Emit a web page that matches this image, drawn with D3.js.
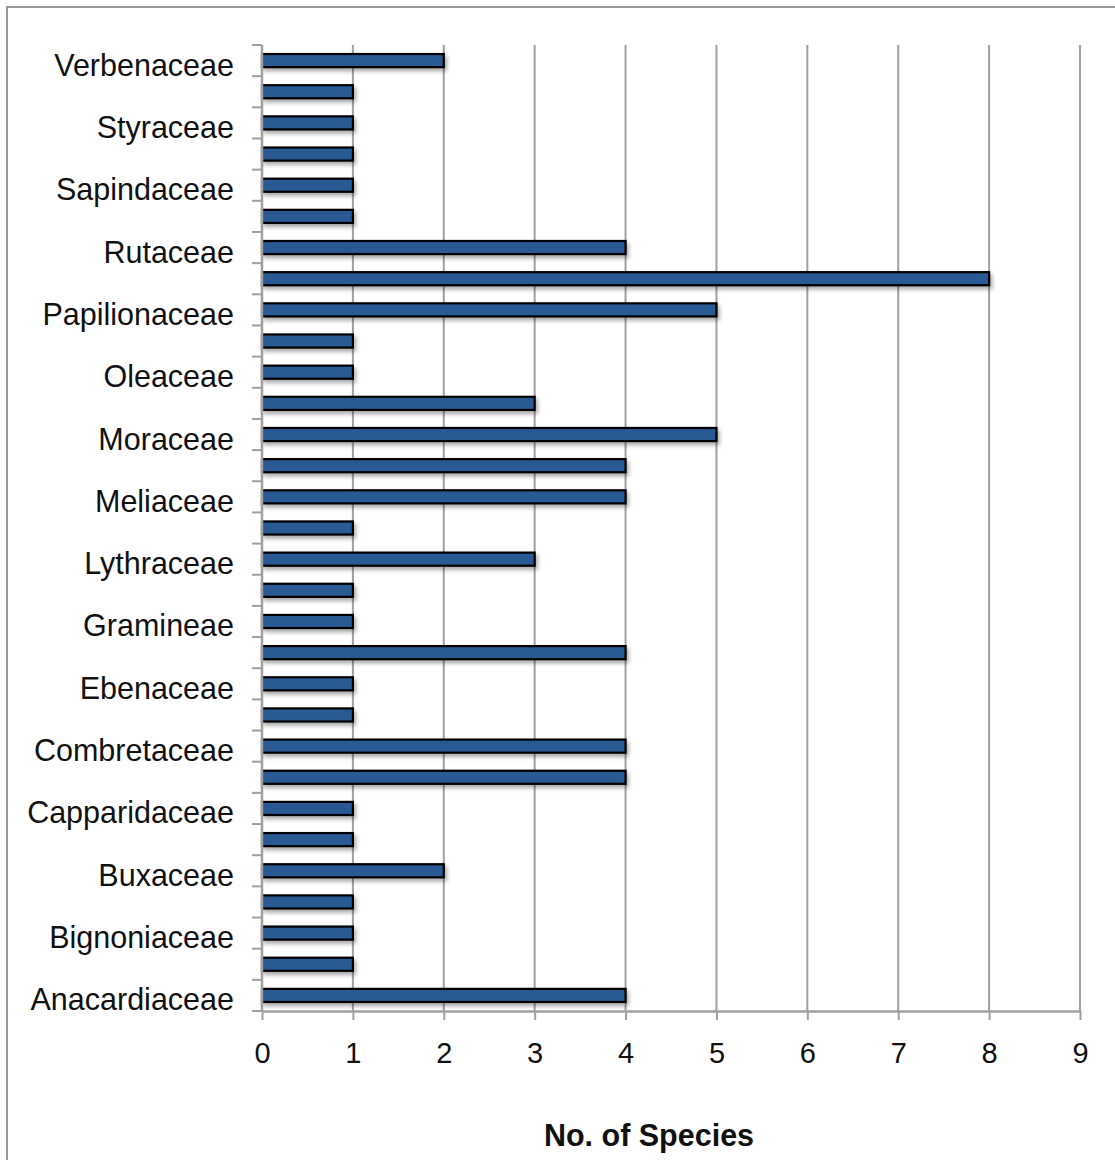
<!DOCTYPE html>
<html>
<head>
<meta charset="utf-8">
<script src="https://cdn.jsdelivr.net/npm/d3@7"></script>
<style>
  html, body { margin: 0; padding: 0; background: #fff; }
  svg { display: block; }
  text { font-family: "Liberation Sans", Arial, sans-serif; fill: #111; }
</style>
</head>
<body>
<svg id="chart" width="1115" height="1160"></svg>
<script>
// Tree families, bottom-to-top order as plotted (alphabetical)
const families = [
  "Anacardiaceae", "Apocynaceae", "Bignoniaceae", "Bombacaceae", "Buxaceae",
  "Caesalpiniaceae", "Capparidaceae", "Celastraceae", "Combretaceae", "Dipterocarpaceae",
  "Ebenaceae", "Euphorbiaceae", "Gramineae", "Lauraceae", "Lythraceae",
  "Malvaceae", "Meliaceae", "Mimosaceae", "Moraceae", "Myrtaceae",
  "Oleaceae", "Palmae", "Papilionaceae", "Rubiaceae", "Rutaceae",
  "Salicaceae", "Sapindaceae", "Sapotaceae", "Styraceae", "Tiliaceae",
  "Verbenaceae"
];
// Number of species per family
const speciesCount = [
  4, 1, 1, 1, 2,
  1, 1, 4, 4, 1,
  1, 4, 1, 1, 3,
  1, 4, 4, 5, 3,
  1, 1, 5, 8, 4,
  1, 1, 1, 1, 1,
  2
];
const xTicks = [0, 1, 2, 3, 4, 5, 6, 7, 8, 9];
const xTitle = "No. of Species";

const svg = d3.select("#chart");

// Outer chart frame
svg.append("rect")
  .attr("x", 7).attr("y", 7)
  .attr("width", 1200).attr("height", 1300)
  .attr("fill", "none").attr("stroke", "#9a9a9a").attr("stroke-width", 2);

const plot = { left: 262, right: 1080, top: 45, bottom: 1011 };

const x = d3.scaleLinear().domain([0, 9]).range([plot.left, plot.right]);
const y = d3.scaleBand()
  .domain(families.slice().reverse())
  .range([plot.top, plot.bottom])
  .paddingInner(0.58).paddingOuter(0.29);
const yBand = d3.scaleBand().domain(families.slice().reverse()).range([plot.top, plot.bottom]);

// Drop shadow for bars
const defs = svg.append("defs");
const f = defs.append("filter").attr("id", "shadow")
  .attr("x", "-5%").attr("y", "-50%").attr("width", "115%").attr("height", "250%");
f.append("feDropShadow")
  .attr("dx", 2).attr("dy", 3).attr("stdDeviation", 2)
  .attr("flood-color", "#000").attr("flood-opacity", 0.35);

// Vertical gridlines
svg.append("g")
  .selectAll("line")
  .data(xTicks.slice(1))
  .join("line")
  .attr("x1", d => x(d)).attr("x2", d => x(d))
  .attr("y1", plot.top).attr("y2", plot.bottom)
  .attr("stroke", "#a0a0a0").attr("stroke-width", 2);

// Bars
svg.append("g")
  .selectAll("rect")
  .data(families.map((name, i) => ({ name, value: speciesCount[i] })))
  .join("rect")
  .attr("x", x(0))
  .attr("y", d => y(d.name))
  .attr("width", d => x(d.value) - x(0))
  .attr("height", y.bandwidth())
  .attr("fill", "#2c5a94")
  .attr("stroke", "#000")
  .attr("stroke-width", 2.2)
  .attr("filter", "url(#shadow)");

// X axis
const xAxis = svg.append("g")
  .attr("transform", `translate(0,${plot.bottom})`)
  .call(d3.axisBottom(x).tickValues(xTicks).tickSize(9).tickPadding(22).tickSizeOuter(0));
xAxis.select(".domain").attr("stroke", "#a0a0a0").attr("stroke-width", 2.5);
xAxis.selectAll(".tick line").attr("stroke", "#a0a0a0").attr("stroke-width", 2);
xAxis.selectAll(".tick text")
  .attr("font-size", 29).attr("fill", "#111")
  .attr("font-family", "'Liberation Sans', Arial, sans-serif");

// Y axis: line plus ticks at every band boundary
const yAxis = svg.append("g");
yAxis.append("line")
  .attr("x1", plot.left).attr("x2", plot.left)
  .attr("y1", plot.top).attr("y2", plot.bottom)
  .attr("stroke", "#a0a0a0").attr("stroke-width", 2.5);
const boundaries = yBand.domain().map(d => yBand(d)).concat([plot.bottom]);
yAxis.selectAll("line.tk")
  .data(boundaries)
  .join("line")
  .attr("class", "tk")
  .attr("x1", plot.left - 10).attr("x2", plot.left)
  .attr("y1", d => d).attr("y2", d => d)
  .attr("stroke", "#a0a0a0").attr("stroke-width", 2);

// Category labels: every second family is labelled
yAxis.selectAll("text")
  .data(families.filter((d, i) => i % 2 === 0))
  .join("text")
  .attr("x", plot.left - 28)
  .attr("y", d => yBand(d) + yBand.bandwidth() / 2 + 15)
  .attr("text-anchor", "end")
  .attr("font-size", 30.5)
  .text(d => d);

// Axis title
svg.append("text")
  .attr("x", 649).attr("y", 1146)
  .attr("text-anchor", "middle")
  .attr("font-size", 30.5)
  .attr("font-weight", "bold")
  .text(xTitle);
</script>
</body>
</html>
